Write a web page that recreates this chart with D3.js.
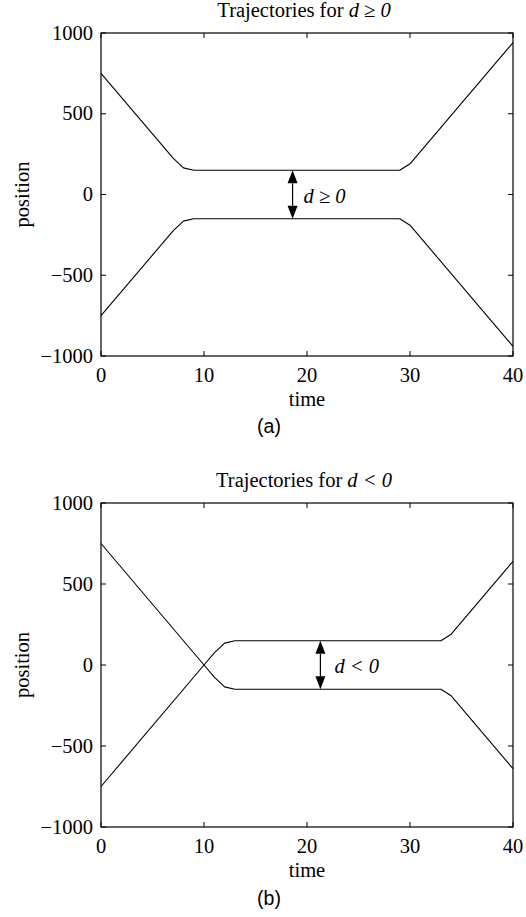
<!DOCTYPE html>
<html>
<head>
<meta charset="utf-8">
<script src="https://cdn.jsdelivr.net/npm/d3@7"></script>
<style>
  html, body { margin: 0; padding: 0; background: #fff; }
  svg { display: block; }
  text { font-family: "Liberation Serif", "Times New Roman", serif; fill: #000; }
</style>
</head>
<body>
<svg id="fig" width="526" height="917"></svg>
<script>
// Panel (a): trajectories that never cross (d >= 0)
const timeA = [0, 7, 8, 9, 29, 30, 40];
const upperA = [750, 225, 165, 150, 150, 190, 940];
const lowerA = [-750, -225, -165, -150, -150, -190, -940];
const gapA = [150, -150];      // arrow end values
const gapTimeA = 18.6;         // arrow time position

// Panel (b): trajectories that cross (d < 0)
const timeB = [0, 10, 11, 12, 13, 33, 34, 40];
const fallingB = [750, 0, -75, -135, -150, -150, -190, -640];
const risingB = [-750, 0, 75, 135, 150, 150, 190, 640];
const gapB = [150, -150];
const gapTimeB = 21.3;

// Axis ticks
const xTicks = [0, 10, 20, 30, 40];
const yTicks = [-1000, -500, 0, 500, 1000];

const svg = d3.select("#fig");
const fmtY = d => d < 0 ? "\u2212" + Math.abs(d) : String(d);
const FS = 20.5;

function panel(cfg) {
  const x = d3.scaleLinear().domain([0, 40]).range([101, 513]);
  const y = d3.scaleLinear().domain([-1000, 1000]).range([cfg.bottom, cfg.top]);
  const g = svg.append("g");
  const tick = 5;

  // lines
  const line = d3.line().x(d => x(d[0])).y(d => y(d[1]));
  cfg.series.forEach(vals => {
    g.append("path")
      .datum(cfg.time.map((t, i) => [t, vals[i]]))
      .attr("d", line)
      .attr("fill", "none")
      .attr("stroke", "#000")
      .attr("stroke-width", 1.1)
      .attr("stroke-linejoin", "round");
  });

  // frame
  g.append("rect")
    .attr("x", x(0)).attr("y", y(1000))
    .attr("width", x(40) - x(0)).attr("height", y(-1000) - y(1000))
    .attr("fill", "none").attr("stroke", "#000").attr("stroke-width", 1.2);

  // inward ticks on all four sides
  xTicks.forEach(t => {
    g.append("line").attr("x1", x(t)).attr("x2", x(t))
      .attr("y1", y(-1000)).attr("y2", y(-1000) - tick).attr("stroke", "#000");
    g.append("line").attr("x1", x(t)).attr("x2", x(t))
      .attr("y1", y(1000)).attr("y2", y(1000) + tick).attr("stroke", "#000");
    g.append("text").attr("x", x(t)).attr("y", y(-1000) + 26)
      .attr("text-anchor", "middle").attr("font-size", FS).text(t);
  });
  yTicks.forEach(v => {
    g.append("line").attr("x1", x(0)).attr("x2", x(0) + tick)
      .attr("y1", y(v)).attr("y2", y(v)).attr("stroke", "#000");
    g.append("line").attr("x1", x(40)).attr("x2", x(40) - tick)
      .attr("y1", y(v)).attr("y2", y(v)).attr("stroke", "#000");
    g.append("text").attr("x", x(0) - 8).attr("y", y(v) + 6.5)
      .attr("text-anchor", "end").attr("font-size", FS).text(fmtY(v));
  });

  // axis labels
  g.append("text").attr("x", x(20)).attr("y", y(-1000) + 50)
    .attr("text-anchor", "middle").attr("font-size", FS).text("time");
  g.append("text")
    .attr("transform", `translate(29,${y(0)}) rotate(-90)`)
    .attr("text-anchor", "middle").attr("font-size", FS).text("position");

  // title
  const title = g.append("text").attr("x", x(20) - 3).attr("y", y(1000) - 16)
    .attr("text-anchor", "middle").attr("font-size", FS);
  title.append("tspan").text("Trajectories for ");
  title.append("tspan").attr("font-style", "italic").text(cfg.rel);

  // double-headed arrow marking the gap
  const ax = x(cfg.gapTime), y1 = y(cfg.gap[0]), y2 = y(cfg.gap[1]);
  const hl = 13, hw = 5;
  g.append("line").attr("x1", ax).attr("x2", ax)
    .attr("y1", y1 + hl).attr("y2", y2 - hl).attr("stroke", "#000").attr("stroke-width", 1.2);
  g.append("path").attr("d", `M${ax},${y1} L${ax - hw},${y1 + hl} L${ax + hw},${y1 + hl} Z`).attr("fill", "#000");
  g.append("path").attr("d", `M${ax},${y2} L${ax - hw},${y2 - hl} L${ax + hw},${y2 - hl} Z`).attr("fill", "#000");
  g.append("text").attr("x", ax + cfg.labelDx).attr("y", y(0) + 8)
    .attr("font-size", FS).attr("font-style", "italic").text(cfg.rel);

  // panel letter
  g.append("text").attr("x", 269).attr("y", cfg.bottom + cfg.letterDy)
    .attr("text-anchor", "middle").attr("font-size", 19.5)
    .style("font-family", "'Liberation Sans', Arial, sans-serif").text(cfg.letter);
}

panel({ top: 33, bottom: 356, time: timeA, series: [upperA, lowerA],
        gap: gapA, gapTime: gapTimeA, rel: "d \u2265 0", labelDx: 11,
        letter: "(a)", letterDy: 77 });
panel({ top: 503, bottom: 827, time: timeB, series: [fallingB, risingB],
        gap: gapB, gapTime: gapTimeB, rel: "d < 0", labelDx: 14,
        letter: "(b)", letterDy: 78 });
</script>
</body>
</html>
